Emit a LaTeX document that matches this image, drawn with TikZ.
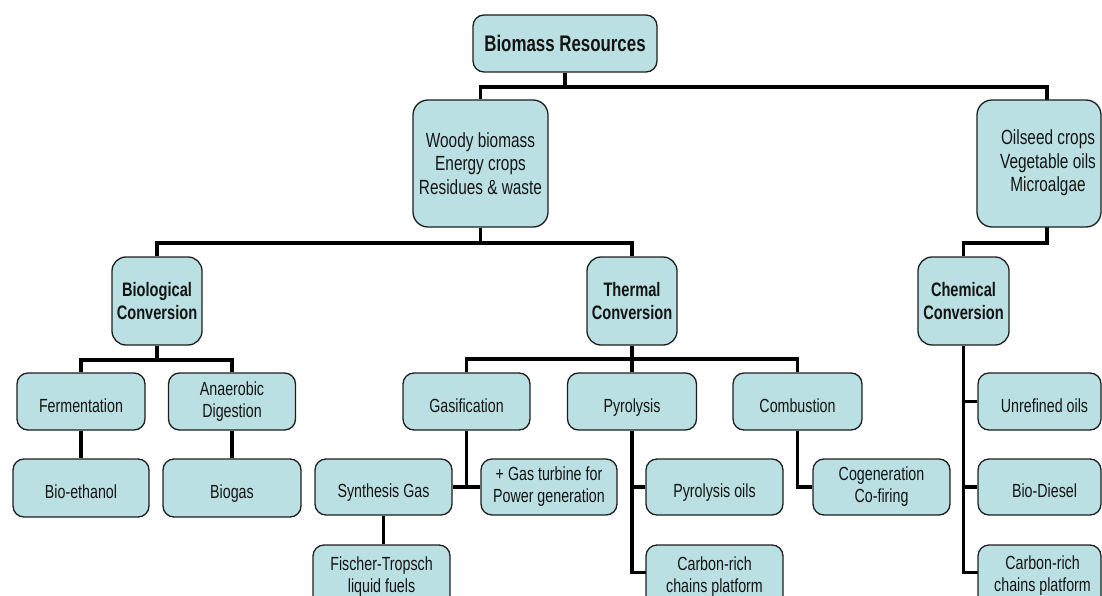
\documentclass[tikz,border=0pt]{standalone}
\usepackage{fontspec}
\setmainfont{Liberation Sans}[FakeStretch=0.75]
\usetikzlibrary{backgrounds}
\definecolor{boxfill}{HTML}{BBE0E3}
\definecolor{edgecol}{HTML}{1E1E1E}
\begin{document}
\begin{tikzpicture}[x=1pt,y=-1pt,
  bx/.style={draw=edgecol, line width=1.3pt, fill=boxfill, rounded corners=11pt,
    align=center, inner sep=0pt, text=black!92, font=\fontsize{19}{22}\selectfont},
  one/.style={text height=21.5pt, text depth=0pt},
  big/.style={font=\fontsize{20.5}{23.5}\selectfont, rounded corners=15pt},
  boldtxt/.style={font=\bfseries\fontsize{19.5}{23}\selectfont, rounded corners=14pt},
  link/.style={line width=3.6pt, draw=black}]
\useasboundingbox (0,0) rectangle (1102,596);

% level 0
\node[bx, minimum width=184pt, minimum height=57pt, font=\bfseries\fontsize{22.5}{26}\selectfont,
      text height=16pt, text depth=0pt] (res) at (565,43.5) {Biomass Resources};
% level 1
\node[bx, big, minimum width=135pt, minimum height=127pt] (woody) at (480.5,163.5)
  {Woody biomass\\Energy crops\\Residues \& waste};
\node[bx, big, minimum width=124pt, minimum height=127pt] (oil) at (1039,163.5)
  {\hspace*{18pt}\begin{tabular}{@{}c@{}}Oilseed crops\\Vegetable oils\\Microalgae\end{tabular}};
% level 2
\node[bx, boldtxt, minimum width=90pt, minimum height=88pt] (biol) at (157,301) {Biological\\Conversion};
\node[bx, boldtxt, minimum width=90pt, minimum height=88pt] (therm) at (632,301) {Thermal\\Conversion};
\node[bx, boldtxt, minimum width=91pt, minimum height=88pt] (chem) at (963.5,301) {Chemical\\Conversion};
% level 3
\node[bx, one, minimum width=128pt, minimum height=57pt] (ferm) at (81,401.5) {Fermentation};
\node[bx, minimum width=127pt, minimum height=57pt] (anaer) at (232,401.5) {Anaerobic\\Digestion};
\node[bx, one, minimum width=127pt, minimum height=57pt] (gasif) at (466.5,401.5) {Gasification};
\node[bx, one, minimum width=129pt, minimum height=57pt] (pyro) at (632,401.5) {Pyrolysis};
\node[bx, one, minimum width=129pt, minimum height=57pt] (comb) at (797.5,401.5) {Combustion};
\node[bx, one, minimum width=123pt, minimum height=57pt] (unref) at (1039.5,401.5) {\hspace*{10pt}Unrefined oils};
% level 4
\node[bx, one, minimum width=136pt, minimum height=58pt] (bioeth) at (81,488) {Bio-ethanol};
\node[bx, one, minimum width=138pt, minimum height=58pt] (biogas) at (232,488) {Biogas};
\node[bx, one, minimum width=137pt, minimum height=56pt] (synth) at (383.5,487) {Synthesis Gas};
\node[bx, minimum width=136pt, minimum height=56pt] (turbine) at (549,487) {+ Gas turbine for\\Power generation};
\node[bx, one, minimum width=137pt, minimum height=56pt] (pyrooil) at (714.5,487) {Pyrolysis oils};
\node[bx, minimum width=137pt, minimum height=56pt] (cogen) at (881.5,487) {Cogeneration\\Co-firing};
\node[bx, one, minimum width=123pt, minimum height=56pt] (biodiesel) at (1039.5,487) {\hspace*{10pt}Bio-Diesel};
% level 5 (cut by the lower edge)
\node[bx, minimum width=137pt, minimum height=63pt] (ft) at (381.5,576.5) {Fischer-Tropsch\\liquid fuels};
\node[bx, minimum width=137pt, minimum height=63pt] (carbonA) at (714.5,576.5) {Carbon-rich\\chains platform};
\node[bx, minimum width=123pt, minimum height=63pt] (carbonB) at (1039.5,576.5) {\hspace*{6pt}\begin{tabular}{@{}c@{}}Carbon-rich\\chains platform\end{tabular}};

% junction points
\coordinate (j1) at (565,87);
\coordinate (oiltop) at (1047,100);
\coordinate (oilbot) at (1047,227);
\coordinate (j2) at (480.5,243);
\coordinate (j3) at (1047,243);
\coordinate (j4) at (157,360);
\coordinate (j5) at (632,359);
\coordinate (j6) at (466.5,487);
\coordinate (j7) at (632,572.5);
\coordinate (j8) at (963.5,572.5);
\coordinate (cA) at (646,572.5);
\coordinate (cB) at (978,572.5);

\begin{scope}[on background layer]
  \draw[link] (res.south) -- (j1);
  \draw[link] (woody.north) |- (j1) -| (oiltop);
  \draw[link] (woody.south) -- (j2);
  \draw[link] (biol.north) |- (j2) -| (therm.north);
  \draw[link] (oilbot) -- (j3) -| (chem.north);
  \draw[link] (biol.south) -- (j4);
  \draw[link] (ferm.north) |- (j4) -| (anaer.north);
  \draw[link] (therm.south) -- (j5);
  \draw[link] (gasif.north) |- (j5) -| (comb.north);
  \draw[link] (j5) -- (pyro.north);
  \draw[link] (ferm.south) -- (bioeth.north);
  \draw[link] (anaer.south) -- (biogas.north);
  \draw[link] (gasif.south) -- (j6);
  \draw[link] (synth.east) -- (turbine.west);
  \draw[link] (synth.south) -- (ft.north -| synth.south);
  \draw[link] (pyro.south) -- (j7) -- (cA);
  \draw[link] (pyrooil.west) -- (pyrooil.west -| j7);
  \draw[link] (comb.south) |- (cogen.west);
  \draw[link] (chem.south) -- (j8) -- (cB);
  \draw[link] (unref.west) -- (unref.west -| j8);
  \draw[link] (biodiesel.west) -- (biodiesel.west -| j8);
\end{scope}
\end{tikzpicture}
\end{document}
